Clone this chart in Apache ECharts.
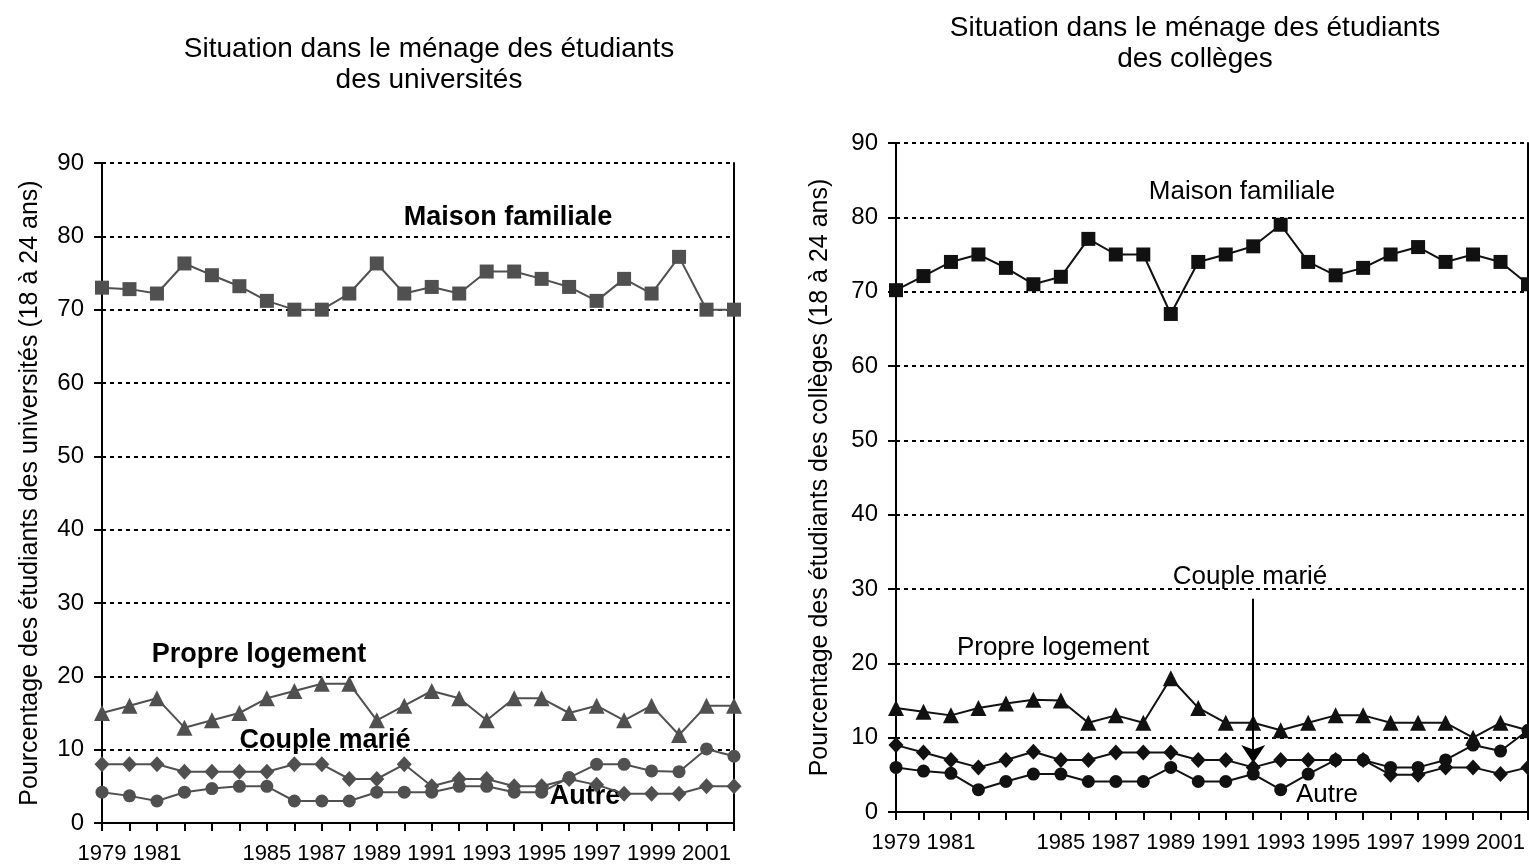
<!DOCTYPE html>
<html>
<head>
<meta charset="utf-8">
<script src="https://cdn.jsdelivr.net/npm/echarts@6/dist/echarts.min.js"></script>
<style>
  html, body { margin: 0; padding: 0; background: #fff; }
  #chart { width: 1529px; height: 867px; }
</style>
</head>
<body>
<div id="chart"></div>
<script>
// années 1979 - 2002
var years = ['1979','1980','1981','1982','1983','1984','1985','1986','1987','1988','1989','1990',
  '1991','1992','1993','1994','1995','1996','1997','1998','1999','2000','2001','2002']
// étiquettes affichées sous l'axe (1983 absent dans l'original)
var yearLabels = ['1979','1981','1985','1987','1989','1991','1993','1995','1997','1999','2001']

// universités
var uniMaison = [73, 72.8, 72.2, 76.3, 74.7, 73.2, 71.2, 70, 70, 72.2, 76.3, 72.2,
  73.1, 72.2, 75.2, 75.2, 74.2, 73.1, 71.2, 74.2, 72.2, 77.2, 70, 70]
var uniPropre = [15, 16, 17, 13, 14, 15, 17, 18, 19, 19, 14, 16,
  18, 17, 14, 17, 17, 15, 16, 14, 16, 12, 16, 16]
var uniCouple = [8, 8, 8, 7, 7, 7, 7, 8, 8, 6, 6, 8,
  5, 6, 6, 5, 5, 6, 5.2, 4, 4, 4, 5, 5]
var uniAutre = [4.2, 3.7, 3, 4.2, 4.7, 5, 5, 3, 3, 3, 4.2, 4.2,
  4.2, 5, 5, 4.2, 4.2, 6.2, 8, 8, 7.1, 7, 10.1, 9.1]

// collèges
var colMaison = [70.2, 72.1, 74, 75, 73.2, 71, 72, 77.1, 75, 75, 67, 74,
  75, 76.1, 79, 74, 72.2, 73.2, 75, 76, 74, 75, 74, 71]
var colPropre = [14, 13.5, 13, 14, 14.6, 15.1, 15, 12, 13, 12, 18, 14,
  12, 12, 11, 12, 13, 13, 12, 12, 12, 10, 12, 11]
var colCouple = [9, 8, 7, 6, 7, 8.1, 7, 7, 8, 8, 8, 7,
  7, 6, 7, 7, 7, 7, 5, 5, 6, 6, 5.1, 6]
var colAutre = [6, 5.5, 5.2, 3, 4.1, 5.1, 5.1, 4.1, 4.1, 4.1, 6, 4.1,
  4.1, 5.1, 3, 5.1, 7, 7, 6, 6, 7, 9, 8.2, 11]

var FONT = '"Liberation Sans", Arial, sans-serif'
var GREY = '#505050'
var BLACK = '#111111'

function xAxisOf(gi) {
  return {
    type: 'category', gridIndex: gi, data: years, boundaryGap: false,
    axisLine: { lineStyle: { color: '#000', width: 2 } },
    axisTick: { show: true, length: 8, interval: 0, lineStyle: { color: '#000', width: 2 } },
    axisLabel: {
      interval: function (i, v) { return yearLabels.indexOf(v) >= 0 },
      color: '#000', fontSize: 22, fontFamily: FONT, margin: 20
    },
    splitLine: { show: false }
  }
}

function yAxisOf(gi, name, gap) {
  return {
    type: 'value', gridIndex: gi, min: 0, max: 90, interval: 10,
    name: name, nameLocation: 'middle', nameGap: gap,
    nameTextStyle: { color: '#000', fontSize: 25, fontFamily: FONT },
    axisLine: { show: true, lineStyle: { color: '#000', width: 2 } },
    axisTick: { show: true, length: 8, lineStyle: { color: '#000', width: 2 } },
    axisLabel: { color: '#000', fontSize: 24, fontFamily: FONT, margin: 18 },
    splitLine: { show: true, lineStyle: { color: '#000', width: 2, type: [4, 4] } }
  }
}

// bordure droite du cadre
function rightBorder(gi) {
  return {
    type: 'value', gridIndex: gi, min: 0, max: 90, position: 'right',
    axisLine: { show: true, lineStyle: { color: '#000', width: 2 } },
    axisTick: { show: false }, axisLabel: { show: false }, splitLine: { show: false }
  }
}

function line(name, data, xi, yi, symbol, size, color) {
  return {
    name: name, type: 'line', xAxisIndex: xi, yAxisIndex: yi, data: data,
    symbol: symbol, symbolSize: size,
    lineStyle: { color: color, width: 2 },
    itemStyle: { color: color },
    animation: false
  }
}

function txt(x, y, s, bold, size) {
  return {
    type: 'text', x: x, y: y,
    style: {
      text: s, fill: '#000', font: (bold ? 'bold ' : '') + size + 'px ' + FONT,
      align: 'center', verticalAlign: 'middle'
    }
  }
}

var chart = echarts.init(document.getElementById('chart'))

var colCoupleSeries = line('Couple marié', colCouple, 1, 2, 'diamond', [15, 16], BLACK)
colCoupleSeries.markLine = {
  silent: true, symbol: ['none', 'arrow'], symbolSize: 18,
  label: { show: false },
  lineStyle: { color: '#000', width: 2, type: 'solid' },
  data: [[{ coord: ['1992', 28.7] }, { coord: ['1992', 6.6] }]]
}

var option = {
  backgroundColor: '#fff',
  animation: false,
  title: [
    {
      text: 'Situation dans le ménage des étudiants\ndes universités',
      left: 424, top: 29, textAlign: 'center',
      textStyle: { fontSize: 28, fontWeight: 'normal', color: '#000', fontFamily: FONT, lineHeight: 31 }
    },
    {
      text: 'Situation dans le ménage des étudiants\ndes collèges',
      left: 1190, top: 8, textAlign: 'center',
      textStyle: { fontSize: 28, fontWeight: 'normal', color: '#000', fontFamily: FONT, lineHeight: 31 }
    }
  ],
  grid: [
    { left: 102, right: 795, top: 163, bottom: 44 },
    { left: 896, right: 1, top: 143, bottom: 55 }
  ],
  xAxis: [xAxisOf(0), xAxisOf(1)],
  yAxis: [
    yAxisOf(0, 'Pourcentage des étudiants des universités (18 à 24 ans)', 59),
    rightBorder(0),
    yAxisOf(1, 'Pourcentage des étudiants des collèges (18 à 24 ans)', 63),
    rightBorder(1)
  ],
  series: [
    line('Maison familiale', uniMaison, 0, 0, 'rect', 14, GREY),
    line('Propre logement', uniPropre, 0, 0, 'triangle', 16, GREY),
    line('Couple marié', uniCouple, 0, 0, 'diamond', [15, 16], GREY),
    line('Autre', uniAutre, 0, 0, 'circle', 13, GREY),
    line('Maison familiale', colMaison, 1, 2, 'rect', 14, BLACK),
    line('Propre logement', colPropre, 1, 2, 'triangle', 16, BLACK),
    colCoupleSeries,
    line('Autre', colAutre, 1, 2, 'circle', 13, BLACK)
  ],
  graphic: [
    txt(508, 218, 'Maison familiale', true, 27),
    txt(259, 655, 'Propre logement', true, 27),
    txt(325, 741, 'Couple marié', true, 27),
    txt(585, 797, 'Autre', true, 27),
    txt(1242, 192, 'Maison familiale', false, 26),
    txt(1250, 577, 'Couple marié', false, 26),
    txt(1053, 648, 'Propre logement', false, 26),
    txt(1327, 795, 'Autre', false, 26)
  ]
}

chart.setOption(option)
</script>
</body>
</html>
